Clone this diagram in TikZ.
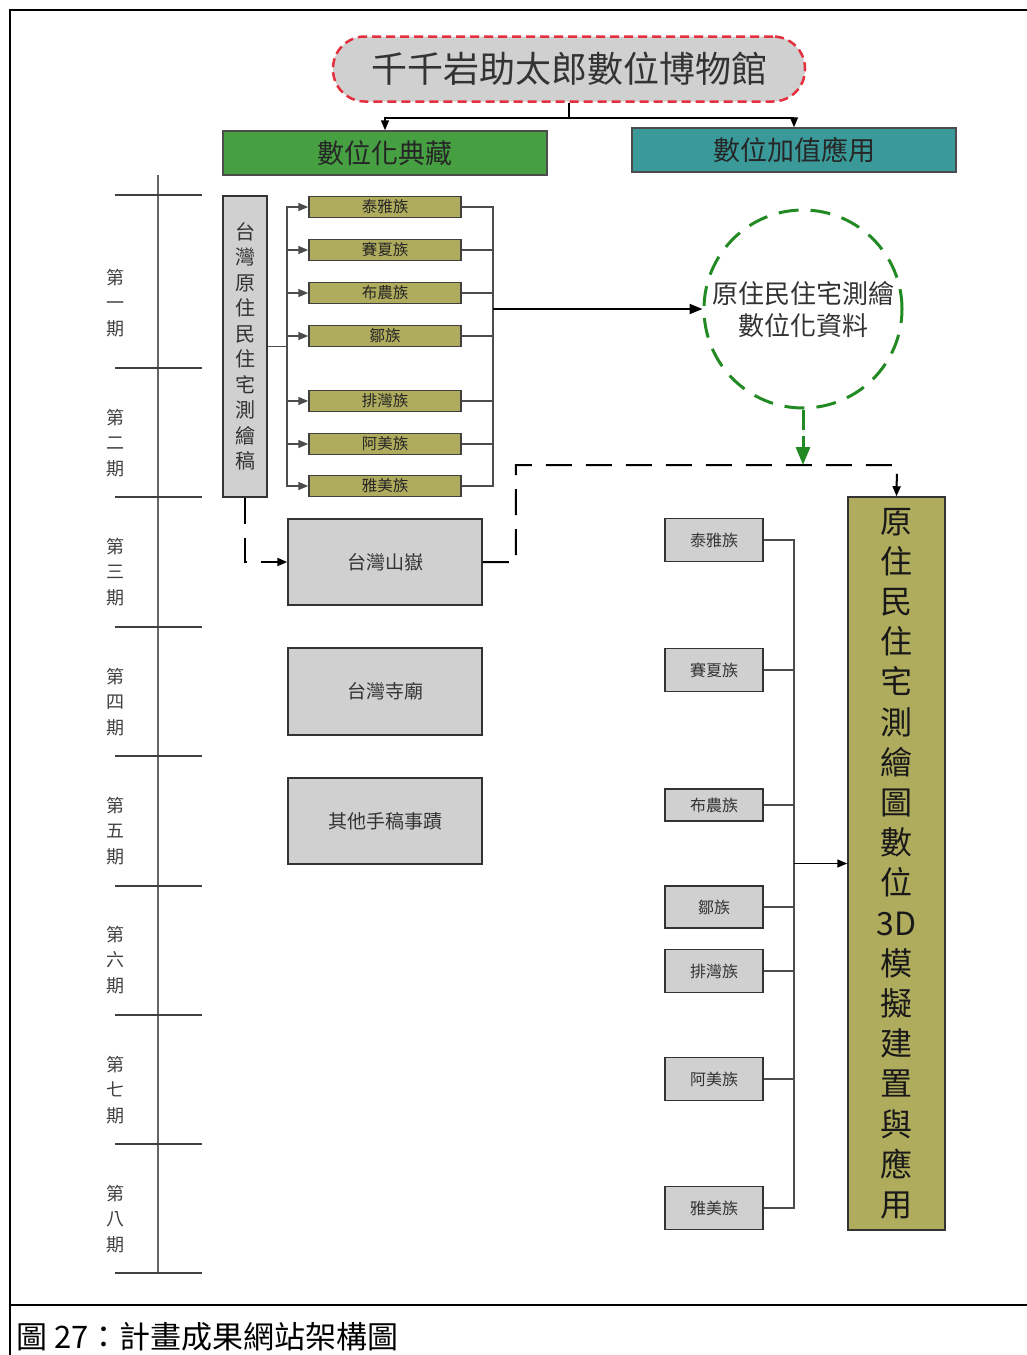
\documentclass[tikz,border=0pt]{standalone}
\usepackage{fontspec}
\setmainfont{Noto Sans CJK TC}
\usetikzlibrary{arrows.meta}
\definecolor{boxgray}{RGB}{208,208,208}
\definecolor{tribeolive}{RGB}{176,172,94}
\definecolor{collectgreen}{RGB}{70,160,66}
\definecolor{applyteal}{RGB}{58,154,154}
\definecolor{museumred}{RGB}{228,48,62}
\definecolor{circgreen}{RGB}{34,138,34}
\tikzset{
  >={Triangle[length=10pt,width=8pt]},
  greybox/.style={draw=black!80, line width=1.5pt, fill=boxgray, inner sep=0pt,
    text=black!80, font=\fontsize{19}{19}\selectfont},
  tribebox/.style={draw=black!75, line width=1.5pt, fill=tribeolive, inner sep=0pt,
    minimum width=152pt, minimum height=21pt, text=black!85,
    font=\fontsize{15.5}{15.5}\selectfont},
  rtribe/.style={greybox, minimum width=98pt, font=\fontsize{16}{16}\selectfont},
  headbox/.style={draw=black!70, line width=1.5pt, inner sep=0pt,
    minimum width=324pt, minimum height=44pt, text=black!85,
    font=\fontsize{27}{27}\selectfont},
  periodlabel/.style={align=center, inner sep=0pt, text=black!75,
    font=\fontsize{18}{25.5}\selectfont},
  longdash/.style={line width=2pt, dash pattern=on 26pt off 14pt},
  busline/.style={line width=1.5pt, draw=black!70},
}

\begin{document}
\begin{tikzpicture}[x=1pt, y=-1pt]
    \useasboundingbox (0,0) rectangle (1027,1355);
    \clip (0,0) rectangle (1027,1355);

    % frame and caption
    \draw [line width=2pt] (10,1360) -- (10,10) -- (1035,10);
    \draw [line width=2pt] (10,1305) -- (1035,1305);
    \node [anchor=west, inner sep=0pt, font=\fontsize{31}{31}\selectfont]
        (caption) at (16,1337) {圖 27：計畫成果網站架構圖};

    % time line (periods)
    \draw [line width=2pt, draw=black!60] (158,175) -- (158,1273);
    \foreach \y in {195,368,497,627,756,886,1015,1144,1273}
        \draw [line width=1.5pt, draw=black!75] (115,\y) -- (202,\y);
    \foreach \y/\n in {303/一,443/二,572/三,702/四,831/五,960/六,1090/七,1219/八}
        \node [periodlabel] (period\n) at (115,\y) {第\\\n\\期};

    % museum and its two branches
    \node [draw=museumred, line width=2.5pt, dash pattern=on 9pt off 5pt,
        fill=boxgray, rounded corners=32pt, minimum width=472pt,
        minimum height=65pt, inner sep=0pt, text=black!80,
        font=\fontsize{36}{36}\selectfont]
        (museum) at (569,69) {千千岩助太郎數位博物館};
    \node [headbox, fill=collectgreen] (collect) at (385,153) {數位化典藏};
    \node [headbox, fill=applyteal] (apply) at (794,150) {數位加值應用};
    \coordinate (split) at (569,118);
    \draw [line width=1.5pt] (museum.south) -- (split);
    \draw [->, line width=1.5pt] (split) -| (collect.north);
    \draw [->, line width=1.5pt] (split) -| (apply.north);

    % drafts and tribes (left)
    \node [greybox, minimum width=44pt, minimum height=301pt, align=center,
        font=\fontsize{20}{25.5}\selectfont]
        (draft) at (245,346.5) {台\\灣\\原\\住\\民\\住\\宅\\測\\繪\\稿};
    \foreach \name/\y [count=\i] in {泰雅族/207,賽夏族/250,布農族/293,鄒族/336,排灣族/401,阿美族/444,雅美族/486}
        \node [tribebox] (t\i) at (385,\y) {\name};
    \coordinate (lbus) at (287,346.5);
    \coordinate (rbus) at (493,309);
    \draw [busline] (draft.east) -- (lbus);
    \foreach \i in {1,...,7}{
        \draw [->, busline] (lbus) |- (t\i.west);
        \draw [busline] (t\i.east) -| (rbus);
    }

    % digitized data
    \node [circle, draw=circgreen, line width=3pt, dash pattern=on 20pt off 12pt,
        minimum size=198pt, inner sep=0pt, align=center, text=black!80,
        font=\fontsize{26}{32}\selectfont]
        (circ) at (803,309) {原住民住宅測繪\\數位化資料};
    \draw [-{Triangle[length=13pt,width=10pt]}, line width=2pt] (rbus) -- (circ.west);

    % other collections
    \node [greybox, minimum width=194pt, minimum height=86pt] (mountain) at (385,562) {台灣山嶽};
    \node [greybox, minimum width=194pt, minimum height=87pt] (temple) at (385,691.5) {台灣寺廟};
    \node [greybox, minimum width=194pt, minimum height=86pt] (other) at (385,821) {其他手稿事蹟};
    \draw [->, longdash] (draft.south) |- (mountain.west);

    % 3D model and tribes (right)
    \node [draw=black!80, line width=1.5pt, fill=tribeolive, minimum width=97pt,
        minimum height=733pt, inner sep=0pt, align=center, text=black!90,
        font=\fontsize{32}{40.2}\selectfont]
        (model) at (896.5,863.5)
        {原\\住\\民\\住\\宅\\測\\繪\\圖\\數\\位\\3D\\模\\擬\\建\\置\\與\\應\\用};
    \foreach \name/\y/\h [count=\i] in {泰雅族/540/43,賽夏族/670/43,布農族/805/32,鄒族/907/42,排灣族/971/43,阿美族/1079/43,雅美族/1208/43}
        \node [rtribe, minimum height=\h pt] (r\i) at (714,\y) {\name};
    \coordinate (mbus) at (794,863.5);
    \foreach \i in {1,...,7}
        \draw [busline] (r\i.east) -| (mbus);
    \draw [->, line width=1.5pt] (mbus) -- (model.west);

    % dashed links into the model
    \coordinate (drop) at (803,465);
    \coordinate (joint) at (897,465);
    \draw [->, longdash] (mountain.east) -- ++(33,0) |- (joint) -- (model.north);
    \draw [-{Triangle[length=18pt,width=14pt]}, line width=3pt, draw=circgreen,
        fill=circgreen, dash pattern=on 20pt off 6pt] (circ.south) -- (drop);
\end{tikzpicture}
\end{document}
